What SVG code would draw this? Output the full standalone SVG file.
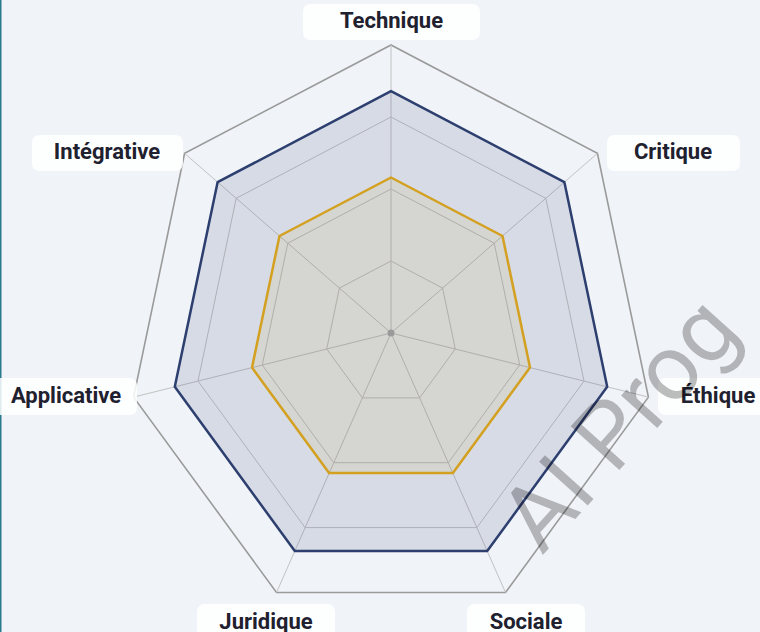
<svg xmlns="http://www.w3.org/2000/svg" width="760" height="632" viewBox="0 0 760 632">
<style>
.ring{fill:none;stroke:#c2c2c2;stroke-width:1}
.outer{fill:none;stroke:#9a9a9a;stroke-width:1.6}
.axis{stroke:#c2c2c2;stroke-width:1}
.box{fill:#ffffff;fill-opacity:0.85}
.lbl{font-family:Roboto,"Liberation Sans",sans-serif;font-weight:700;font-size:22px;fill:#20202e;text-anchor:middle}
</style>
<rect x="0" y="0" width="760" height="632" fill="#f0f3f8"/>
<rect x="0" y="0" width="1.5" height="632" fill="#2a7b8b"/>
<g id="grid">
<polygon class="outer" points="391,45 597.4,153.4 648.4,397.1 505.5,592.5 276.5,592.5 133.6,397.1 184.6,153.4"/>
<polygon class="ring" points="391,117 545.8,198.3 584,381.1 476.9,527.6 305.1,527.6 198,381.1 236.2,198.3"/>
<polygon class="ring" points="391,189 494.2,243.2 519.7,365 448.3,462.7 333.7,462.7 262.3,365 287.8,243.2"/>
<polygon class="ring" points="391,261 442.6,288.1 455.3,349 419.6,397.9 362.4,397.9 326.7,349 339.4,288.1"/>
</g>
<g id="connectors">
<line class="axis" x1="391" y1="333" x2="391" y2="45"/>
<line class="axis" x1="391" y1="333" x2="597.4" y2="153.4"/>
<line class="axis" x1="391" y1="333" x2="648.4" y2="397.1"/>
<line class="axis" x1="391" y1="333" x2="505.5" y2="592.5"/>
<line class="axis" x1="391" y1="333" x2="276.5" y2="592.5"/>
<line class="axis" x1="391" y1="333" x2="133.6" y2="397.1"/>
<line class="axis" x1="391" y1="333" x2="184.6" y2="153.4"/>
</g>
<g id="series-target">
<polygon points="391,91.1 564.4,182.2 607.2,386.8 487.2,551 294.8,551 174.8,386.8 217.6,182.2" fill="#2d3f6e" fill-opacity="0.13" stroke="#2d3f6e" stroke-width="2.5" stroke-linejoin="round"/>
</g>
<g id="series-current">
<polygon points="391,177.5 502.5,236 530,367.6 452.9,473.1 329.1,473.1 252,367.6 279.5,236" fill="#c9a030" fill-opacity="0.11" stroke="#d4a020" stroke-width="2.5" stroke-linejoin="round"/>
</g>
<circle cx="391" cy="333" r="3.5" fill="#9a9a9a"/>
<g id="label-technique"><rect class="box" x="303" y="4" width="177" height="36" rx="7"/><text class="lbl" x="391.5" y="28">Technique</text></g>
<g id="label-critique"><rect class="box" x="607" y="135" width="133" height="36" rx="7"/><text class="lbl" x="673" y="159">Critique</text></g>
<g id="label-ethique"><rect class="box" x="658" y="378" width="120" height="37" rx="7"/><text class="lbl" x="718" y="403">Éthique</text></g>
<g id="label-sociale"><rect class="box" x="467" y="604" width="118" height="40" rx="7"/><text class="lbl" x="526" y="629">Sociale</text></g>
<g id="label-juridique"><rect class="box" x="197" y="604" width="138" height="40" rx="7"/><text class="lbl" x="266" y="629">Juridique</text></g>
<g id="label-applicative"><rect class="box" x="-10" y="378" width="147" height="37" rx="7"/><text class="lbl" x="66" y="403">Applicative</text></g>
<g id="label-integrative"><rect class="box" x="32" y="135" width="151" height="36" rx="7"/><text class="lbl" x="107" y="159">Intégrative</text></g>
<text x="542" y="556" transform="rotate(-48 542 556)" font-family="Roboto,'Liberation Sans',sans-serif" font-size="92" fill="#000" fill-opacity="0.26">AI Prog</text>
</svg>
